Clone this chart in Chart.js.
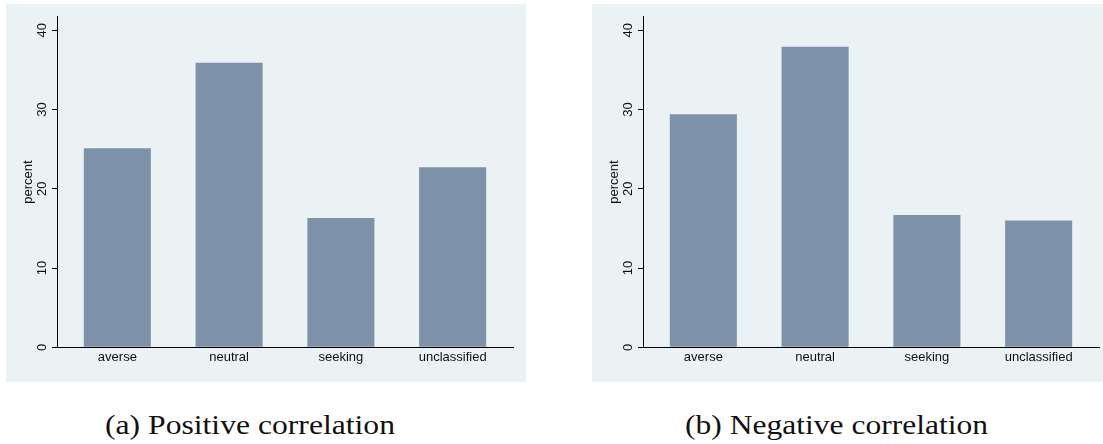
<!DOCTYPE html>
<html>
<head>
<meta charset="utf-8">
<script src="https://cdn.jsdelivr.net/npm/chart.js@4.4.1/dist/chart.umd.min.js"></script>
<style>
  html, body { margin: 0; padding: 0; background: #ffffff; width: 1103px; height: 444px; overflow: hidden; }
  .panel { position: absolute; top: 4px; height: 378px; background: #eaf2f3; overflow: hidden; }
  #panelA { left: 6px; width: 520px; }
  #panelB { left: 592px; width: 511px; }
  .caption { position: absolute; top: 412px; font-family: "Liberation Serif", "Times New Roman", serif;
             font-size: 27px; line-height: 27px; color: #111; white-space: nowrap; transform-origin: 0 0; }
</style>
</head>
<body>
<div class="panel" id="panelA"><canvas id="chartA" width="520" height="378"></canvas></div>
<div class="panel" id="panelB"><canvas id="chartB" width="520" height="378"></canvas></div>
<div class="caption" id="capA" data-w="290" style="left:105px">(a) Positive correlation</div>
<div class="caption" id="capB" data-w="303" style="left:685px">(b) Negative correlation</div>

<script>
// Share of respondents by risk attitude, in percent
const categories = ['averse', 'neutral', 'seeking', 'unclassified'];
const positiveCorrelation = [25.1, 35.9, 16.3, 22.7];
const negativeCorrelation = [29.4, 37.9, 16.7, 16.0];
const yTicks = [0, 10, 20, 30, 40];
const yTitle = 'percent';

const barColor = 'rgb(125,146,168)';
const gridColor = '#eaf2f3';
const textColor = '#111111';
const labelFont = '13px "Liberation Sans", Arial, sans-serif';

// Axis labels in the Stata style: vertical y tick labels, category names under the bars
const axisLabels = {
  id: 'axisLabels',
  afterDraw(chart) {
    const { ctx, chartArea, scales: { x, y } } = chart;
    ctx.save();
    ctx.fillStyle = textColor;
    ctx.font = labelFont;
    ctx.textAlign = 'center';
    ctx.textBaseline = 'middle';
    categories.forEach((name, i) => {
      ctx.fillText(name, x.getPixelForValue(i), chartArea.bottom + 10);
    });
    y.ticks.forEach(t => {
      ctx.save();
      ctx.translate(chartArea.left - 15, y.getPixelForValue(t.value));
      ctx.rotate(-Math.PI / 2);
      ctx.fillText(String(t.value), 0, 0);
      ctx.restore();
    });
    ctx.save();
    ctx.translate(chartArea.left - 29, (chartArea.top + chartArea.bottom) / 2);
    ctx.rotate(-Math.PI / 2);
    ctx.fillText(yTitle, 0, 0);
    ctx.restore();
    ctx.restore();
  }
};

function makeChart(canvasId, values) {
  return new Chart(document.getElementById(canvasId), {
    type: 'bar',
    data: {
      datasets: [{
        data: values.map((v, i) => ({ x: i, y: v })),
        backgroundColor: barColor,
        borderWidth: 0,
        barPercentage: 0.6,
        categoryPercentage: 1.0
      }]
    },
    options: {
      responsive: false,
      animation: false,
      events: [],
      layout: { padding: { left: 46, right: 13, top: 12.7, bottom: 34.7 } },
      plugins: { legend: { display: false }, tooltip: { enabled: false } },
      scales: {
        x: {
          type: 'linear',
          min: -0.54,
          max: 3.54,
          offset: false,
          z: 1,
          afterBuildTicks: s => { s.ticks = categories.map((c, i) => ({ value: i })); },
          ticks: { display: false },
          grid: { display: false, drawTicks: false, offset: false },
          border: { display: true, color: '#000000', width: 1 }
        },
        y: {
          type: 'linear',
          min: 0,
          max: 41.7,
          afterBuildTicks: s => { s.ticks = yTicks.map(v => ({ value: v })); },
          ticks: { display: false },
          grid: { color: gridColor, lineWidth: 1, drawTicks: true, tickLength: 5, tickColor: '#000000' },
          border: { display: true, color: '#000000', width: 1 }
        }
      }
    },
    plugins: [axisLabels]
  });
}

makeChart('chartA', positiveCorrelation);
makeChart('chartB', negativeCorrelation);

// Stretch the serif captions to the width of the subfigure labels
document.querySelectorAll('.caption').forEach(el => {
  const target = parseFloat(el.dataset.w);
  const w = el.getBoundingClientRect().width;
  if (w > 0) el.style.transform = 'scaleX(' + (target / w) + ')';
});
</script>
</body>
</html>
